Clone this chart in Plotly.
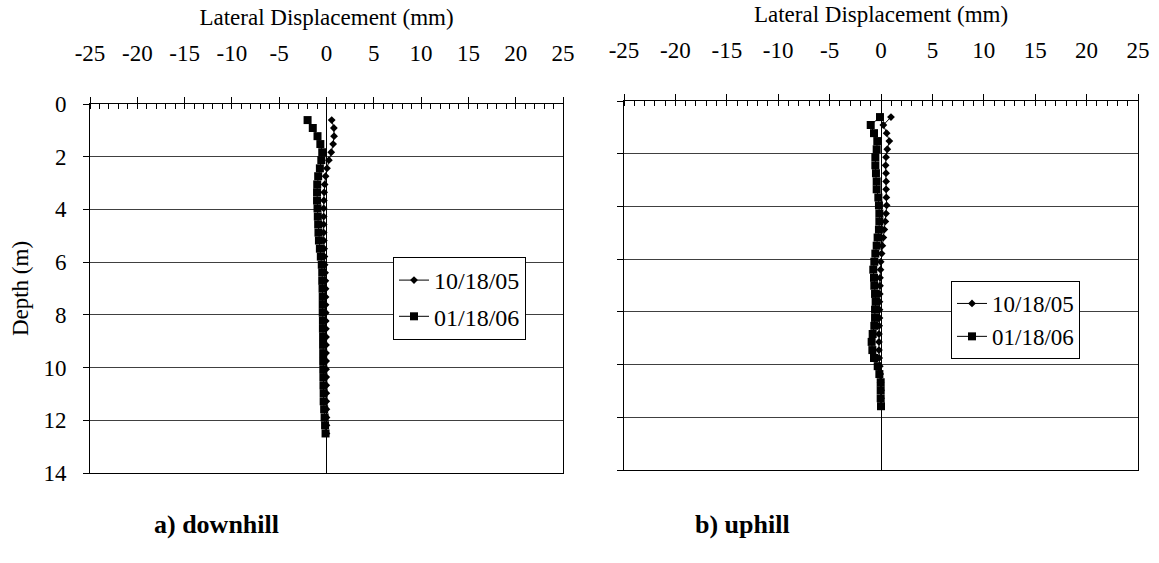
import plotly.graph_objects as go

# ---------------- data ----------------
depth_down = [0.61, 0.91, 1.22, 1.52, 1.83, 2.13, 2.44, 2.74, 3.05, 3.35,
              3.66, 3.96, 4.27, 4.57, 4.88, 5.18, 5.49, 5.79, 6.10, 6.40,
              6.71, 7.01, 7.32, 7.62, 7.92, 8.23, 8.53, 8.84, 9.14, 9.45,
              9.75, 10.06, 10.36, 10.67, 10.97, 11.28, 11.58, 11.89, 12.19, 12.50]
down_101805 = [0.55, 0.78, 0.80, 0.70, 0.50, 0.25, 0.05, -0.10, -0.20, -0.25,
               -0.28, -0.30, -0.30, -0.30, -0.30, -0.28, -0.25, -0.22, -0.20, -0.15,
               -0.12, -0.10, -0.10, -0.10, -0.08, -0.08, -0.06, -0.05, -0.05, -0.05,
               -0.04, -0.04, -0.03, -0.03, -0.02, -0.02, -0.01, 0.0, 0.0, 0.0]
down_011806 = [-2.00, -1.45, -0.95, -0.65, -0.45, -0.55, -0.70, -0.88, -0.98, -1.00,
               -1.00, -0.95, -0.92, -0.88, -0.85, -0.80, -0.70, -0.60, -0.50, -0.45,
               -0.45, -0.42, -0.40, -0.40, -0.40, -0.38, -0.38, -0.36, -0.36, -0.35,
               -0.35, -0.34, -0.33, -0.32, -0.30, -0.30, -0.25, -0.20, -0.15, -0.10]

depth_up = [0.61, 0.91, 1.22, 1.52, 1.83, 2.13, 2.44, 2.74, 3.05, 3.35,
            3.66, 3.96, 4.27, 4.57, 4.88, 5.18, 5.49, 5.79, 6.10, 6.40,
            6.71, 7.01, 7.32, 7.62, 7.92, 8.23, 8.53, 8.84, 9.14, 9.45,
            9.75, 10.06, 10.36, 10.67, 10.97, 11.28, 11.58]
up_101805 = [0.97, 0.23, 0.55, 0.81, 0.61, 0.49, 0.45, 0.49, 0.50, 0.50,
             0.52, 0.55, 0.49, 0.42, 0.32, 0.23, 0.13, 0.06, -0.03, -0.05,
             -0.10, -0.10, -0.12, -0.15, -0.15, -0.15, -0.18, -0.20, -0.20, -0.20,
             -0.18, -0.12, -0.08, -0.04, 0.0, 0.0, 0.0]
up_011806 = [-0.10, -1.00, -0.68, -0.36, -0.42, -0.55, -0.55, -0.49, -0.42, -0.42,
             -0.26, -0.20, -0.16, -0.16, -0.20, -0.33, -0.42, -0.55, -0.65, -0.75,
             -0.68, -0.65, -0.58, -0.52, -0.58, -0.58, -0.65, -0.81, -0.91, -0.84,
             -0.68, -0.32, -0.16, -0.03, -0.03, -0.03, 0.0]

series_names = ["10/18/05", "01/18/06"]
x_ticks = [-25, -20, -15, -10, -5, 0, 5, 10, 15, 20, 25]
y_ticks = [0, 2, 4, 6, 8, 10, 12, 14]
panel_labels = ["a) downhill", "b) uphill"]

# ---------------- figure ----------------
W, H = 1159, 563
FONT = "Liberation Serif"
FS = 23
fig = go.Figure()

def add_pair(xs1, xs2, ys, xa, ya, legend):
    fig.add_trace(go.Scatter(
        x=xs1, y=ys, xaxis=xa, yaxis=ya, name=series_names[0], mode="lines+markers",
        line=dict(color="black", width=1),
        marker=dict(symbol="diamond", size=6, color="black"),
        legend=legend, legendgroup=legend + "a"))
    fig.add_trace(go.Scatter(
        x=xs2, y=ys, xaxis=xa, yaxis=ya, name=series_names[1], mode="lines+markers",
        line=dict(color="black", width=1),
        marker=dict(symbol="square", size=8, color="black"),
        legend=legend, legendgroup=legend + "b"))

add_pair(down_101805, down_011806, depth_down, "x", "y", "legend")
add_pair(up_101805, up_011806, depth_up, "x2", "y2", "legend2")

def px_x(p):
    return p / W

def px_y(p):
    return 1 - p / H

xcommon = dict(
    range=[-25, 25], side="top", tickmode="array", tickvals=x_ticks,
    ticktext=[str(v) for v in x_ticks], automargin=False,
    ticks="outside", ticklen=6, tickcolor="black", tickwidth=1,
    minor=dict(ticks="inside", dtick=1, ticklen=5, tickcolor="black", tickwidth=1, showgrid=False),
    showline=True, linecolor="black", linewidth=1, mirror=True,
    showgrid=False, zeroline=True, zerolinecolor="black", zerolinewidth=1,
    tickfont=dict(family=FONT, size=FS, color="black"),
    ticklabelstandoff=27,
    title=dict(text="Lateral Displacement (mm)", font=dict(family=FONT, size=FS, color="black"), standoff=8),
)
ycommon = dict(
    range=[14, 0], tickmode="array", tickvals=y_ticks, automargin=False,
    ticks="outside", ticklen=6, tickcolor="black", tickwidth=1,
    showline=True, linecolor="black", linewidth=1, mirror=True,
    showgrid=True, gridcolor="#404040", gridwidth=1, zeroline=False,
    tickfont=dict(family=FONT, size=FS, color="black"),
)

legend_common = dict(xanchor="left", yanchor="top",
                     bordercolor="black", borderwidth=1, bgcolor="white",
                     traceorder="grouped", itemwidth=30)

fig.update_layout(
    width=W, height=H, margin=dict(l=0, r=0, t=0, b=0),
    paper_bgcolor="white", plot_bgcolor="white",
    font=dict(family=FONT, size=FS, color="black"),
    xaxis=dict(domain=[px_x(90), px_x(563)], anchor="y", **xcommon),
    yaxis=dict(domain=[px_y(473), px_y(104)], anchor="x",
               ticklabelstandoff=12,
               title=dict(text="Depth (m)", font=dict(family=FONT, size=FS, color="black"), standoff=8),
               **ycommon),
    xaxis2=dict(domain=[px_x(624), px_x(1138)], anchor="y2", **xcommon),
    yaxis2=dict(domain=[px_y(470), px_y(101)], anchor="x2", showticklabels=False, **ycommon),
    legend=dict(x=px_x(393), y=px_y(257), tracegroupgap=2,
                font=dict(family=FONT, size=24, color="black"), **legend_common),
    legend2=dict(x=px_x(951), y=px_y(281), tracegroupgap=0,
                 font=dict(family=FONT, size=23, color="black"), **legend_common),
    showlegend=True,
)

fig.add_annotation(text="<b>" + panel_labels[0] + "</b>", xref="paper", yref="paper",
                   x=px_x(152), y=px_y(524), xanchor="left", yanchor="middle",
                   showarrow=False, font=dict(family=FONT, size=26, color="black"))
fig.add_annotation(text="<b>" + panel_labels[1] + "</b>", xref="paper", yref="paper",
                   x=px_x(693), y=px_y(524), xanchor="left", yanchor="middle",
                   showarrow=False, font=dict(family=FONT, size=26, color="black"))

fig.write_html("out.html")
